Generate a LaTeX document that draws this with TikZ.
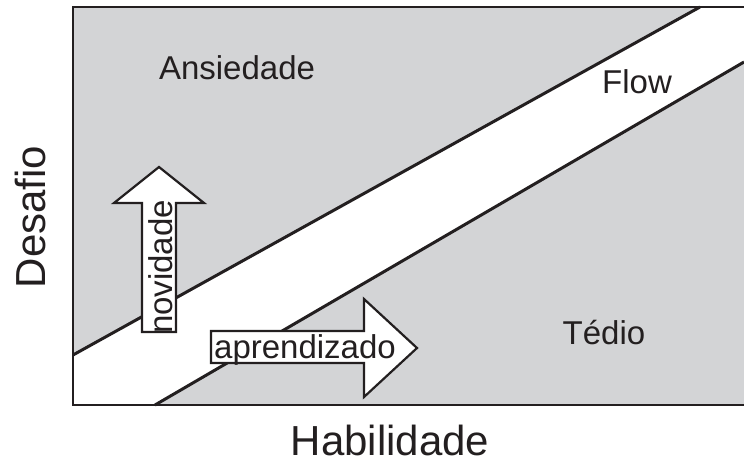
\documentclass[tikz,border=0pt]{standalone}
\usepackage{fontspec}
\setmainfont{Liberation Sans}
\definecolor{bggray}{RGB}{211,212,214}
\definecolor{ink}{RGB}{35,31,32}
\begin{document}
\begin{tikzpicture}[x=1pt,y=-1pt,
  lbl/.style={font=\fontsize{33}{40}\selectfont, text=ink, inner sep=0, anchor=base},
  axislbl/.style={font=\fontsize{42}{50}\selectfont, text=ink, inner sep=0, anchor=base},
  bigarrow/.style={draw=ink, fill=white, line width=2.2pt, line join=miter},
  diag/.style={draw=ink, line width=3pt},
  frame/.style={draw=ink, line width=2.5pt}]
\useasboundingbox (0,0) rectangle (744,464);
\begin{scope}
\clip (0,0) rectangle (744,464);
\coordinate (ua) at (73,355);
\coordinate (ub) at (700,7);
\coordinate (la) at (155,405);
\coordinate (lb) at (744,62);
\coordinate (tl) at (73,7);
\coordinate (tr) at (744,7);
\coordinate (bl) at (73,405);
\coordinate (br) at (744,405);
\fill[bggray] (tl) -- (ub) -- (ua) -- cycle;
\fill[bggray] (la) -- (lb) -- (br) -- cycle;
\draw[diag] (ua) -- (ub);
\draw[diag] (la) -- (lb);
\draw[frame] (tr) -- (tl) -- (bl) -- (br);
\end{scope}
% up arrow (novidade)
\draw[bigarrow] (142,332) -- (142,203) -- (114,203) -- (159,167) -- (204,203) -- (176,203) -- (176,332) -- cycle;
\node[lbl, rotate=90] (novidade) at (172,267) {novidade};
% right arrow (aprendizado)
\draw[bigarrow] (211,331) -- (364,331) -- (364,299) -- (417,348) -- (364,397) -- (364,363) -- (211,363) -- cycle;
\node[lbl] (aprendizado) at (305,358) {aprendizado};
% labels
\node[lbl] (ansiedade) at (237,79) {Ansiedade};
\node[lbl] (flow) at (637,93) {Flow};
\node[lbl] (tedio) at (604,344) {Tédio};
\node[axislbl] (habilidade) at (390,455) {Habilidade};
\node[axislbl, rotate=90] (desafio) at (45,217) {Desafio};
\end{tikzpicture}
\end{document}
